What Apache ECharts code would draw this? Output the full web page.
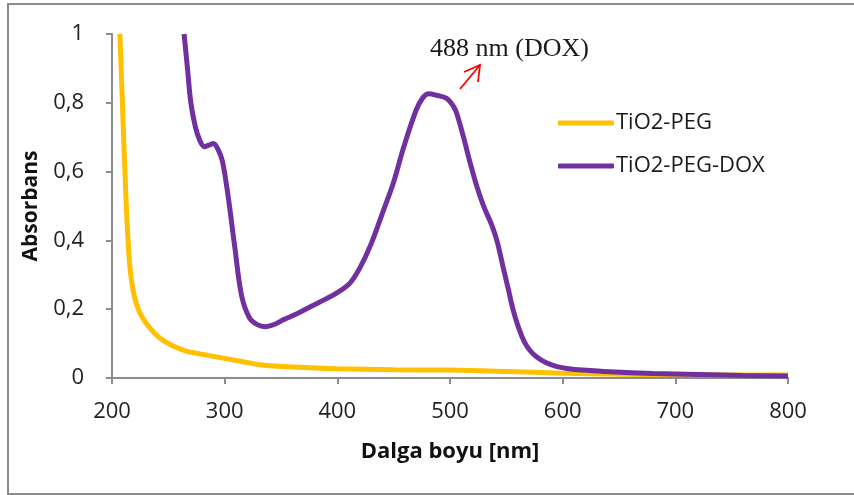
<!DOCTYPE html>
<html>
<head>
<meta charset="utf-8">
<script src="https://cdn.jsdelivr.net/npm/echarts@6/dist/echarts.min.js"></script>
<style>
  html, body { margin: 0; padding: 0; background: #fff; }
  #chart { width: 854px; height: 495px; }
</style>
</head>
<body>
<div id="chart"></div>
<script>
// wavelength (nm) / absorbance pairs
const pegData = [
  [207, 1.0], [209, 0.82], [211, 0.64], [213, 0.48], [215, 0.36], [217, 0.29],
  [220, 0.235], [224, 0.195], [229, 0.165], [235, 0.14], [243, 0.115],
  [253, 0.095], [265, 0.079], [280, 0.069], [300, 0.057], [320, 0.045],
  [335, 0.037], [360, 0.032], [400, 0.027], [450, 0.024], [500, 0.023],
  [550, 0.019], [600, 0.014], [650, 0.011], [700, 0.01], [750, 0.009], [800, 0.009]
];

const doxData = [
  [264, 1.0], [267, 0.9], [270, 0.8], [274, 0.73], [278, 0.69], [282, 0.672],
  [286, 0.677], [290, 0.682], [294, 0.665], [298, 0.63], [303, 0.53],
  [309, 0.38], [315, 0.24], [322, 0.175], [329, 0.155], [336, 0.149],
  [345, 0.157], [352, 0.169], [365, 0.188], [376, 0.207], [390, 0.23],
  [400, 0.248], [411, 0.275], [420, 0.32], [430, 0.39], [441, 0.488],
  [450, 0.57], [459, 0.672], [470, 0.779], [476, 0.815], [481, 0.826],
  [488, 0.822], [497, 0.813], [503, 0.79], [506, 0.769], [512, 0.7],
  [518, 0.624], [524, 0.555], [530, 0.498], [537, 0.445], [542, 0.395],
  [547, 0.324], [552, 0.255], [556, 0.198], [561, 0.145], [566, 0.105],
  [571, 0.08], [577, 0.061], [585, 0.045], [595, 0.033], [605, 0.027],
  [618, 0.023], [642, 0.018], [680, 0.013], [720, 0.01], [760, 0.007], [800, 0.006]
];

const seriesNames = ["TiO2-PEG", "TiO2-PEG-DOX"];
const seriesColors = ["#FFC000", "#7030A0"];
const peakLabel = "488 nm (DOX)";

const chart = echarts.init(document.getElementById("chart"));

const option = {
  backgroundColor: "#fff",
  animation: false,
  grid: { left: 112, right: 66, top: 34, bottom: 117 },
  legend: {
    orient: "vertical",
    left: 553,
    top: 107,
    itemWidth: 56,
    itemHeight: 5,
    itemGap: 21,
    icon: "roundRect",
    textStyle: { fontFamily: "Open Sans", fontSize: 22, color: "#1a1a1a", lineHeight: 22, padding: [0, 0, 0, -3] },
    data: seriesNames
  },
  xAxis: {
    type: "value",
    min: 200,
    max: 800,
    interval: 100,
    name: "Dalga boyu [nm]",
    nameLocation: "middle",
    nameGap: 63,
    nameTextStyle: { fontFamily: "Open Sans", fontSize: 22, fontWeight: "bold", color: "#111" },
    axisLine: { lineStyle: { color: "#8c8c8c", width: 2 } },
    axisTick: { show: true, length: 6, lineStyle: { color: "#8c8c8c", width: 2 } },
    axisLabel: { margin: 23, fontFamily: "Open Sans", fontSize: 22, color: "#222" },
    splitLine: { show: false }
  },
  yAxis: {
    type: "value",
    min: 0,
    max: 1,
    interval: 0.2,
    name: "Absorbans",
    nameLocation: "middle",
    nameGap: 70,
    nameTextStyle: { fontFamily: "Open Sans", fontSize: 21, fontWeight: "bold", color: "#111" },
    axisLine: { show: true, lineStyle: { color: "#8c8c8c", width: 2 } },
    axisTick: { show: true, length: 6, lineStyle: { color: "#8c8c8c", width: 2 } },
    axisLabel: {
      margin: 28,
      fontFamily: "Open Sans",
      fontSize: 22,
      color: "#222",
      formatter: (v) => String(Math.round(v * 10) / 10).replace(".", ",")
    },
    splitLine: { show: false }
  },
  series: [
    {
      name: seriesNames[0],
      type: "line",
      data: pegData,
      smooth: 0.35,
      showSymbol: false,
      color: seriesColors[0],
      lineStyle: { width: 5, color: seriesColors[0] }
    },
    {
      name: seriesNames[1],
      type: "line",
      data: doxData,
      smooth: 0.35,
      showSymbol: false,
      color: seriesColors[1],
      lineStyle: { width: 5, color: seriesColors[1] }
    }
  ],
  graphic: [
    {
      type: "rect",
      shape: { x: 8, y: 4, width: 900, height: 490 },
      style: { fill: "none", stroke: "#8c8c8c", lineWidth: 2 },
      silent: true
    },
    {
      type: "text",
      left: 430,
      top: 36,
      style: { text: peakLabel, font: "26px 'Liberation Serif'", fill: "#1a1a1a" }
    },
    {
      type: "polyline",
      shape: { points: [[460, 89], [480, 65]] },
      style: { stroke: "#ff0000", lineWidth: 1.8, fill: "none" }
    },
    {
      type: "polyline",
      shape: { points: [[464, 72], [480, 65], [478, 82]] },
      style: { stroke: "#ff0000", lineWidth: 1.8, fill: "none" }
    }
  ]
};

chart.setOption(option);
</script>
</body>
</html>
